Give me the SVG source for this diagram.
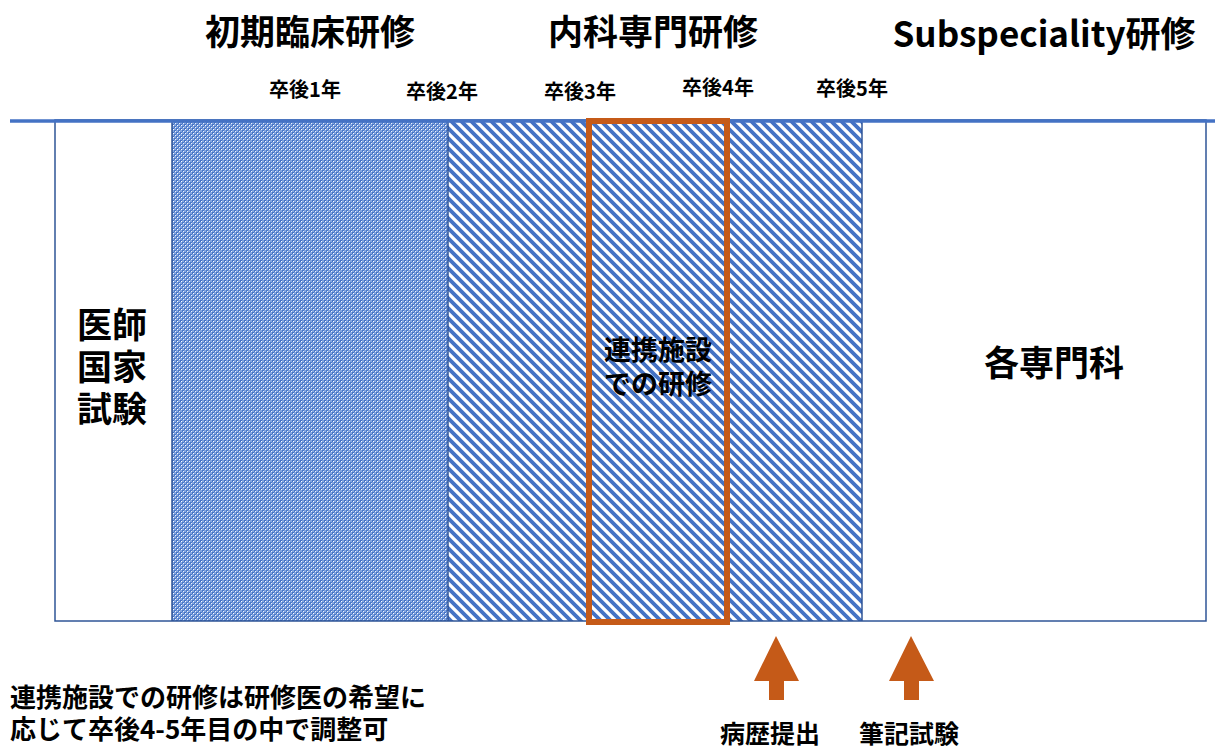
<svg xmlns="http://www.w3.org/2000/svg" width="1215" height="749" viewBox="0 0 1215 749">
<style>
text{font-family:"Noto Sans CJK JP","Noto Sans",sans-serif;font-weight:700;fill:#000}
.title{font-size:35px;text-anchor:middle}
.year{font-size:20px;text-anchor:middle}
.big{font-size:35px;text-anchor:middle}
.mid{font-size:27px;text-anchor:middle}
.note{font-size:26px}
.lbl{font-size:25px;text-anchor:middle}
.frame{fill:none;stroke:#2F5597;stroke-width:1.5}
.arrow{fill:#C55A18}
</style>
<defs>
<pattern id="cross" width="4" height="4" patternUnits="userSpaceOnUse">
<rect width="4" height="4" fill="#84a6e0"/>
<rect x="0" y="0" width="2" height="2" fill="#4472C4"/>
<rect x="2" y="2" width="2" height="2" fill="#4a78c8"/>
<rect x="1" y="1" width="1" height="1" fill="#ffffff"/>
<rect x="3" y="3" width="1" height="1" fill="#eef2fa"/>
</pattern>
<pattern id="stripe" width="10" height="10" patternUnits="userSpaceOnUse">
<rect width="10" height="10" fill="#ffffff"/>
<path d="M-2,-2 L12,12 M-12,-2 L2,12 M8,-2 L22,12" stroke="#4472C4" stroke-width="3.8"/>
</pattern>
</defs>
<g id="titles">
<text class="title" x="310" y="45">初期臨床研修</text>
<text class="title" x="653" y="45">内科専門研修</text>
<text class="title" x="1044" y="47">Subspeciality研修</text>
</g>
<g id="years">
<text class="year" x="305" y="97">卒後1年</text>
<text class="year" x="442" y="99">卒後2年</text>
<text class="year" x="580" y="99">卒後3年</text>
<text class="year" x="718" y="95">卒後4年</text>
<text class="year" x="852" y="96">卒後5年</text>
</g>
<g id="timeline">
<rect id="exam-box" x="55" y="120" width="117" height="501" fill="#ffffff"/>
<rect id="initial" x="172" y="120" width="276" height="501" fill="url(#cross)"/>
<rect id="internal" x="448" y="120" width="414" height="501" fill="url(#stripe)"/>
<rect id="subspec" x="862" y="120" width="344" height="501" fill="#ffffff"/>
<rect class="frame" x="55" y="120" width="1151" height="501"/>
<line class="frame" x1="172" y1="120" x2="172" y2="621"/>
<line class="frame" x1="448" y1="120" x2="448" y2="621"/>
<line class="frame" x1="862" y1="120" x2="862" y2="621"/>
<line x1="10" y1="121" x2="1215" y2="121" stroke="#4472C4" stroke-width="3.5"/>
<rect id="renkei" x="589" y="121" width="138" height="501" fill="none" stroke="#C55A18" stroke-width="6"/>
</g>
<g id="labels">
<text class="big" x="112" y="338"><tspan x="112">医師</tspan><tspan x="112" dy="42">国家</tspan><tspan x="112" dy="42">試験</tspan></text>
<text class="mid" x="658" y="360"><tspan x="658">連携施設</tspan><tspan x="658" dy="34">での研修</tspan></text>
<text class="big" x="1054" y="376">各専門科</text>
</g>
<g id="connectors">
<path class="arrow" d="M776,636 L799,681 L784,681 L784,700 L769,700 L769,681 L754,681 Z"/>
<path class="arrow" d="M911,636 L934,681 L919,681 L919,700 L904,700 L904,681 L889,681 Z"/>
</g>
<g id="bottom">
<text class="lbl" x="770" y="743">病歴提出</text>
<text class="lbl" x="909" y="743">筆記試験</text>
<text class="note" x="10"><tspan x="10" y="707">連携施設での研修は研修医の希望に</tspan><tspan x="10" y="739">応じて卒後4-5年目の中で調整可</tspan></text>
</g>
</svg>
